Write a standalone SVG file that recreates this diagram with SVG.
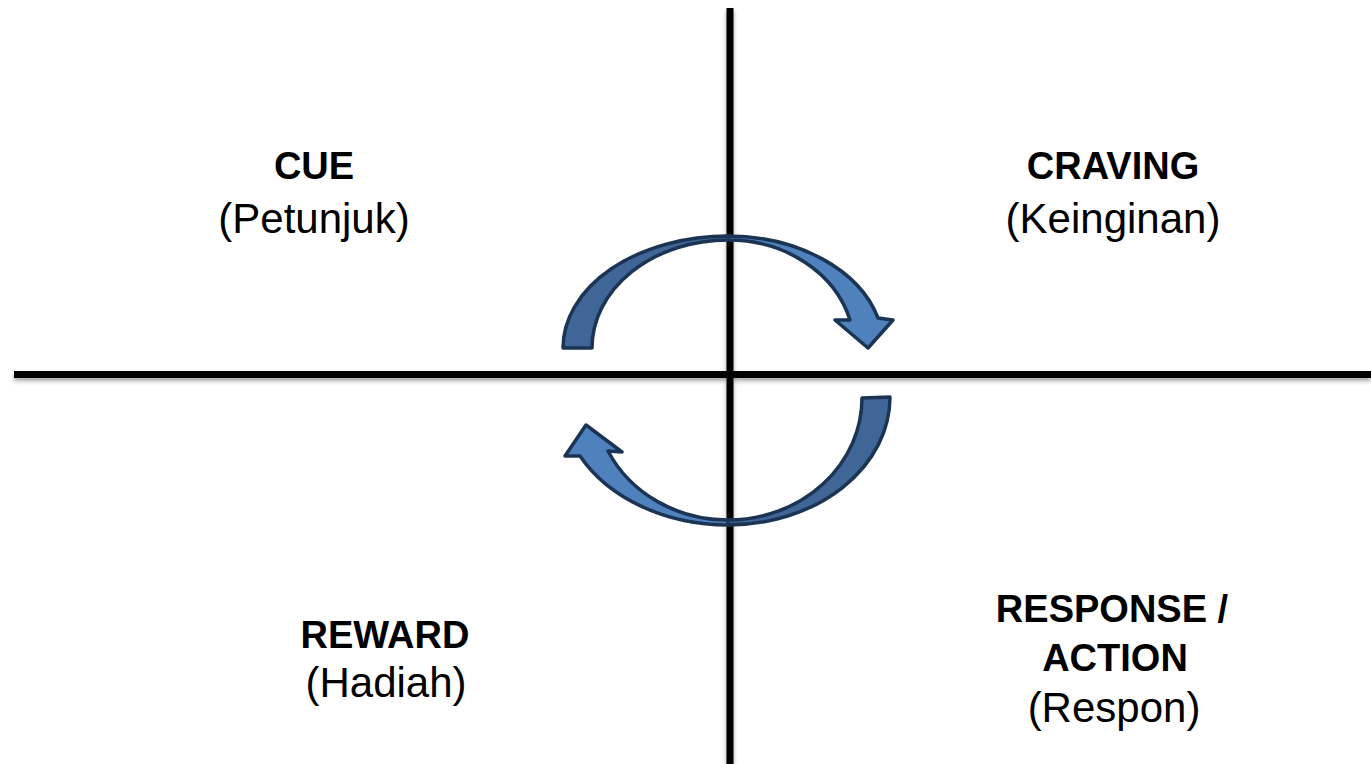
<svg xmlns="http://www.w3.org/2000/svg" width="1371" height="764" viewBox="0 0 1371 764">
<defs>
<style>
.ax{stroke:#000;stroke-width:7;fill:none}
.b{font-family:"Liberation Sans",Arial,sans-serif;font-weight:bold;font-size:38px;fill:#000;text-anchor:middle}
.r{font-family:"Liberation Sans",Arial,sans-serif;font-size:42px;fill:#000;text-anchor:middle}
.dk{fill:#3F6696;stroke:#1C3454;stroke-width:3.5;stroke-linejoin:round}
.lt{fill:#4F81BD;stroke:#1C3454;stroke-width:3.5;stroke-linejoin:round}
</style>
<filter id="sh" x="-5%" y="-50%" width="110%" height="200%">
<feDropShadow dx="0" dy="3" stdDeviation="2" flood-color="#000" flood-opacity="0.35"/>
</filter>
</defs>
<rect width="1371" height="764" fill="#fff"/>
<g id="axes" filter="url(#sh)">
<line class="ax" x1="14" y1="374.5" x2="1371" y2="374.5"/>
<line class="ax" x1="730" y1="8" x2="730" y2="764"/>
</g>
<g id="connectors">
<g id="arrow-top">
<path class="lt" d="M728,236 A156,112 0 0 1 878,318 L893,320 L868,348 L835,320 L850,320 A126,108 0 0 0 728,240 Z"/>
<path class="dk" d="M563,348 A165,112 0 0 1 728,236 L728,240 A136,108 0 0 0 592,348 Z"/>
</g>
<g id="arrow-bottom">
<path class="lt" d="M728,525 A167,128 0 0 1 580,456 L565,456 L586,425 L622,452 L608,451 A133,122 0 0 0 728,520 Z"/>
<path class="dk" d="M890,397 A162,128 0 0 1 728,525 L728,520 A134,122 0 0 0 862,398 Z"/>
</g>
</g>
<g id="cue">
<text class="b" x="314" y="179">CUE</text>
<text class="r" x="314" y="233">(Petunjuk)</text>
</g>
<g id="craving">
<text class="b" x="1113" y="179">CRAVING</text>
<text class="r" x="1113" y="233">(Keinginan)</text>
</g>
<g id="reward">
<text class="b" x="385" y="648">REWARD</text>
<text class="r" x="386" y="697">(Hadiah)</text>
</g>
<g id="response">
<text class="b" x="1112" y="622">RESPONSE /</text>
<text class="b" x="1115" y="671">ACTION</text>
<text class="r" x="1114" y="722">(Respon)</text>
</g>
</svg>
